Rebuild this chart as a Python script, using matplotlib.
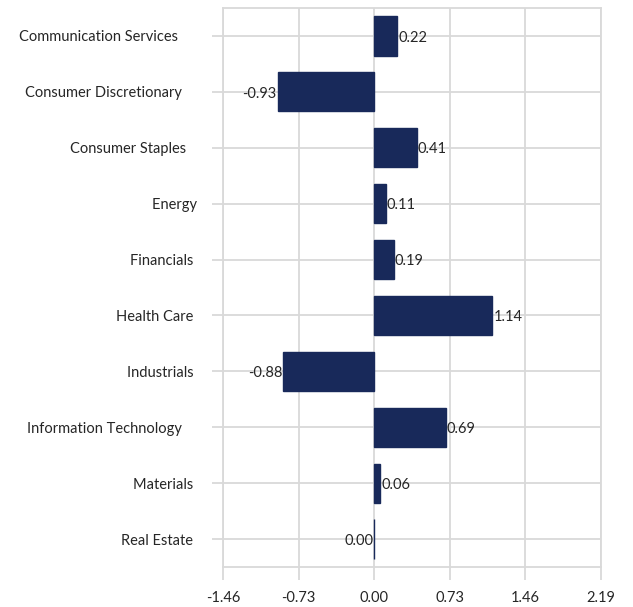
import matplotlib.pyplot as plt

sectors = ['Communication Services      ', 'Consumer Discretionary     ', 'Consumer Staples    ', 'Energy ',
           'Financials  ', 'Health Care  ', 'Industrials  ', 'Information Technology     ',
           'Materials  ', 'Real Estate  ']
values = [0.22, -0.93, 0.41, 0.11, 0.19, 1.14, -0.88, 0.69, 0.06, 0.00]
xticks = [-1.46, -0.73, 0.00, 0.73, 1.46, 2.19]

plt.rcParams['font.family'] = ['Lato', 'DejaVu Sans']
grey = '#d9d9d9'
navy = '#18295a'

fig = plt.figure(figsize=(6.33, 6.07), dpi=100)
ax = fig.add_axes([0.3523, 0.0659, 0.5971, 0.9209])

pos = list(range(len(sectors)))
ax.barh(pos, values, height=0.7, color=navy, edgecolor=navy, linewidth=1.0, zorder=3)

for y, v in zip(pos, values):
    if v <= 0:
        ax.text(v - 0.01, y + 0.03, f'{v:.2f}', ha='right', va='center', fontsize=10.5, color='#262626', zorder=4)
    else:
        ax.text(v + 0.01, y + 0.03, f'{v:.2f}', ha='left', va='center', fontsize=10.5, color='#262626', zorder=4)

ax.set_xlim(xticks[0], xticks[-1])
ax.set_ylim(len(sectors) - 0.5, -0.5)
ax.set_xticks(xticks)
ax.set_xticklabels([f'{t:.2f}' for t in xticks])
ax.set_yticks(pos)
ax.set_yticklabels(sectors)

ax.grid(True, color=grey, linewidth=1.3, zorder=0)
for s in ax.spines.values():
    s.set_color(grey)
    s.set_linewidth(1.3)
ax.tick_params(axis='x', length=9, width=1.3, color=grey, pad=8, labelsize=10.5, labelcolor='#262626')
ax.tick_params(axis='y', length=8, width=1.3, color=grey, pad=8, labelsize=10.5, labelcolor='#262626')

plt.savefig('out.png', dpi=100)
